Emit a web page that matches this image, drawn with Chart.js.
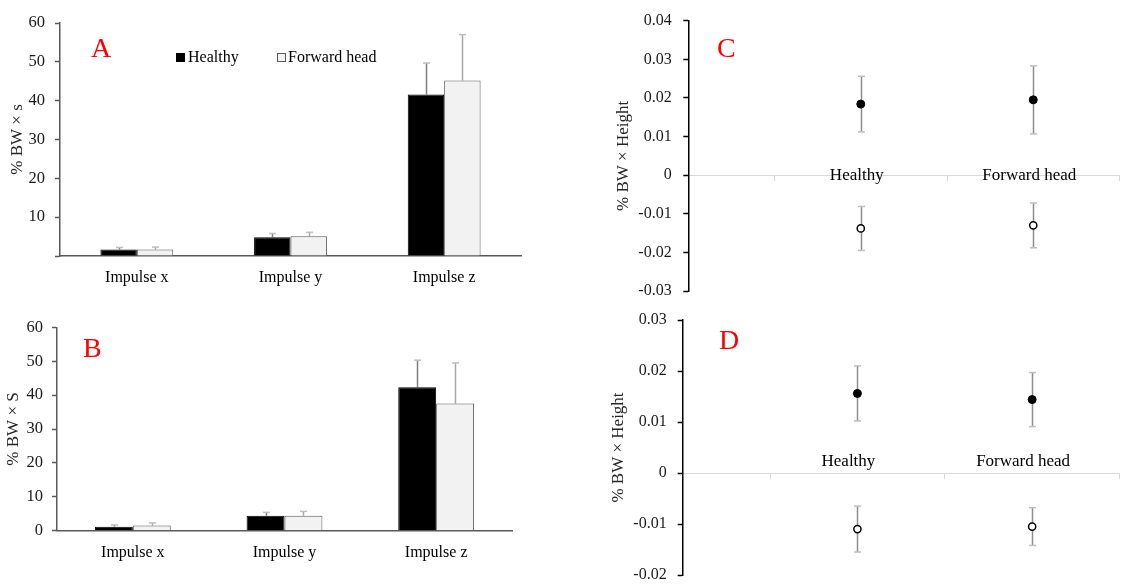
<!DOCTYPE html>
<html>
<head>
<meta charset="utf-8">
<script src="https://cdn.jsdelivr.net/npm/chart.js@4.4.0/dist/chart.umd.min.js"></script>
<style>
  html, body { margin:0; padding:0; background:#fff; overflow:hidden; width:1125px; height:586px; }
  canvas { position:absolute; }
  .txt { position:absolute; font-family:"Liberation Serif","Times New Roman",serif; white-space:nowrap; }
  .letter { font-size:28px; line-height:28px; color:#ff0000; }
  .lgtext { font-size:16px; line-height:16px; color:#000; }
  .sq { position:absolute; width:7px; height:7px; border:1px solid #000; }
</style>
</head>
<body>
<canvas id="cA" width="560" height="295" style="left:0;top:0"></canvas>
<canvas id="cB" width="560" height="286" style="left:0;top:300px"></canvas>
<canvas id="cC" width="525" height="300" style="left:600px;top:0"></canvas>
<canvas id="cD" width="525" height="286" style="left:600px;top:300px"></canvas>

<div class="txt letter" style="left:91px;top:34px">A</div>
<div class="txt letter" style="left:83px;top:334px">B</div>
<div class="txt letter" style="left:717px;top:34px">C</div>
<div class="txt letter" style="left:719px;top:326px">D</div>

<div class="sq" style="left:176px;top:53px;background:#000;border-color:#000"></div>
<div class="txt lgtext" id="lg0" style="left:188px;top:49px"></div>
<div class="sq" style="left:277px;top:53px;background:#f2f2f2;border-color:#595959"></div>
<div class="txt lgtext" id="lg1" style="left:288px;top:49px"></div>

<script>
// ---------- data ----------
const seriesNames = ['Healthy', 'Forward head'];
const impulseCats = ['Impulse x', 'Impulse y', 'Impulse z'];

const aHealthy   = [1.7, 4.8, 41.6];
const aHealthySD = [0.5, 1.0, 8.1];
const aForward   = [1.7, 5.1, 45.2];
const aForwardSD = [0.6, 1.0, 11.8];

const bHealthy   = [1.2, 4.4, 42.3];
const bHealthySD = [0.5, 1.0, 8.0];
const bForward   = [1.5, 4.4, 37.5];
const bForwardSD = [0.8, 1.3, 12.0];

const groupCats = ['Healthy', 'Forward head'];
const groupPos  = [1, 2];

const cUpper   = [0.0184, 0.0195];
const cUpperSD = [0.0072, 0.0088];
const cLower   = [-0.0138, -0.0130];
const cLowerSD = [0.0057, 0.0058];

const dUpper   = [0.0156, 0.0144];
const dUpperSD = [0.0054, 0.0053];
const dLower   = [-0.0110, -0.0105];
const dLowerSD = [0.0045, 0.0037];

const yTitleA = '% BW \u00d7 s';
const yTitleB = '% BW \u00d7 S';
const yTitleCD = '% BW \u00d7 Height';

document.getElementById('lg0').textContent = seriesNames[0];
document.getElementById('lg1').textContent = seriesNames[1];

// ---------- helpers ----------
const FONT = '"Liberation Serif", "Times New Roman", serif';
Chart.defaults.font.family = FONT;
Chart.defaults.color = '#000';
Chart.defaults.animation = false;

const errorBars = {
  id: 'errorBars',
  beforeDatasetsDraw(chart) {
    const ctx = chart.ctx, ys = chart.scales.y;
    chart.data.datasets.forEach((ds, di) => {
      const err = ds.errorValues;
      if (!err) return;
      const meta = chart.getDatasetMeta(di);
      ctx.save();
      meta.data.forEach((el, i) => {
        const raw = ds.data[i];
        const v = (typeof raw === 'object') ? raw.y : raw;
        const top = ys.getPixelForValue(v + err[i]);
        const bot = ys.getPixelForValue(ds.errorBoth ? v - err[i] : v);
        const x = Math.round(el.x) + 0.5;
        ctx.lineWidth = 1.5;
        ctx.strokeStyle = ds.errorColor;
        ctx.beginPath(); ctx.moveTo(x, bot); ctx.lineTo(x, top); ctx.stroke();
        ctx.strokeStyle = ds.capColor;
        ctx.beginPath(); ctx.moveTo(x - 3.5, top); ctx.lineTo(x + 3.5, top); ctx.stroke();
        if (ds.errorBoth) {
          ctx.beginPath(); ctx.moveTo(x - 3.5, bot); ctx.lineTo(x + 3.5, bot); ctx.stroke();
        }
      });
      ctx.restore();
    });
  }
};

function barChart(id, h, hSD, f, fSD, cfg) {
  return new Chart(document.getElementById(id), {
    type: 'bar',
    data: {
      labels: impulseCats,
      datasets: [
        { label: seriesNames[0], data: h, errorValues: hSD, errorColor: '#7f7f7f', capColor: '#bfbfbf',
          backgroundColor: '#000', borderColor: '#000', borderWidth: 1,
          categoryPercentage: cfg.catPct, barPercentage: 1 },
        { label: seriesNames[1], data: f, errorValues: fSD, errorColor: '#a6a6a6', capColor: '#bfbfbf',
          backgroundColor: '#f2f2f2', borderColor: '#595959', borderWidth: 1,
          categoryPercentage: cfg.catPct, barPercentage: 1 }
      ]
    },
    options: {
      responsive: false,
      devicePixelRatio: 1,
      layout: { padding: cfg.pad },
      plugins: { legend: { display: false }, tooltip: { enabled: false } },
      scales: {
        x: {
          grid: { display: false, drawTicks: false, tickLength: 0 },
          border: { color: '#595959', width: 1.5 },
          ticks: { font: { size: 16 }, color: '#000', padding: cfg.xPad, maxRotation: 0 },
          afterFit: s => { s.height = cfg.xH; }
        },
        y: {
          min: 0, max: 60,
          ticks: { stepSize: 10, font: { size: 16.5 }, color: '#1a1a1a', padding: cfg.yPad,
                   callback: v => (v === 0 && cfg.hideZero) ? '' : String(v) },
          grid: { drawOnChartArea: false, tickLength: 5, tickColor: '#595959', tickWidth: 1.5 },
          border: { color: '#595959', width: 1.5 },
          title: { display: true, text: cfg.title, font: { size: 17 }, color: '#262626',
                   padding: { top: cfg.tPad, bottom: 0 } },
          afterFit: s => { s.width = cfg.yW; }
        }
      }
    },
    plugins: [errorBars]
  });
}

barChart('cA', aHealthy, aHealthySD, aForward, aForwardSD,
  { pad: { left: 0, top: 23, right: 39, bottom: 0 }, xH: 39, yW: 60, xPad: 12.2, yPad: 10,
    tPad: 7.4, title: yTitleA, hideZero: true, catPct: 0.474 });

barChart('cB', bHealthy, bHealthySD, bForward, bForwardSD,
  { pad: { left: 0, top: 27.3, right: 48, bottom: 0 }, xH: 55.3, yW: 57, xPad: 12.2, yPad: 9,
    tPad: 3.4, title: yTitleB, hideZero: false, catPct: 0.50 });

function dotChart(id, up, upSD, lo, loSD, cfg) {
  return new Chart(document.getElementById(id), {
    type: 'scatter',
    data: {
      datasets: [
        { label: 'upper', data: groupPos.map((p, i) => ({ x: p, y: up[i] })), errorValues: upSD, errorBoth: true,
          errorColor: '#8c8c8c', capColor: '#bfbfbf',
          pointRadius: 4, pointBackgroundColor: '#000', pointBorderColor: '#000', pointBorderWidth: 1 },
        { label: 'lower', data: groupPos.map((p, i) => ({ x: p, y: lo[i] })), errorValues: loSD, errorBoth: true,
          errorColor: '#8c8c8c', capColor: '#bfbfbf',
          pointRadius: 3.6, pointBackgroundColor: '#fff', pointBorderColor: '#000', pointBorderWidth: 1.5 }
      ]
    },
    options: {
      responsive: false,
      devicePixelRatio: 1,
      layout: { padding: cfg.pad },
      plugins: { legend: { display: false }, tooltip: { enabled: false } },
      scales: {
        x: {
          type: 'linear', min: 0, max: 2.5,
          position: { y: 0 },
          ticks: { stepSize: 0.5, autoSkip: false, maxRotation: 0, font: { size: 17 }, color: '#000',
                   padding: cfg.xPad, labelOffset: cfg.lblOff,
                   callback: v => { const k = groupPos.indexOf(v); return k >= 0 ? groupCats[k] : ''; } },
          grid: { drawOnChartArea: false, tickLength: 5, tickWidth: 1,
                  tickColor: c => (c.tick && Math.abs(c.tick.value % 1 - 0.5) < 1e-6) ? '#d9d9d9' : 'rgba(0,0,0,0)' },
          border: { color: '#d9d9d9', width: 1 },
          afterFit: s => { s.height = 0; s.paddingLeft = 0; s.paddingRight = 0; }
        },
        y: {
          min: cfg.yMin, max: cfg.yMax,
          ticks: { stepSize: 0.01, font: { size: 16 }, color: '#1a1a1a', padding: cfg.yPad,
                   callback: v => Math.abs(v) < 1e-9 ? '0' : v.toFixed(2) },
          grid: { drawOnChartArea: false, tickLength: 5, tickColor: '#000', tickWidth: 1.5 },
          border: { color: '#000', width: 1.5 },
          title: { display: true, text: yTitleCD, font: { size: 17 }, color: '#262626',
                   padding: { top: cfg.tPad, bottom: 0 } },
          afterFit: s => { s.width = cfg.yW; s.paddingTop = 0; s.paddingBottom = 0; }
        }
      }
    },
    plugins: [errorBars]
  });
}

dotChart('cC', cUpper, cUpperSD, cLower, cLowerSD,
  { pad: { left: 0, top: 20.7, right: 0, bottom: 9 }, yW: 88.3, yPad: 11.6, tPad: 13.4,
    yMin: -0.03, yMax: 0.04, xPad: -14.7, lblOff: -4 });

dotChart('cD', dUpper, dUpperSD, dLower, dLowerSD,
  { pad: { left: 0, top: 20, right: 5.5, bottom: 11 }, yW: 82.7, yPad: 11, tPad: 8.7,
    yMin: -0.02, yMax: 0.03, xPad: -26.2, lblOff: -9 });
</script>
</body>
</html>
